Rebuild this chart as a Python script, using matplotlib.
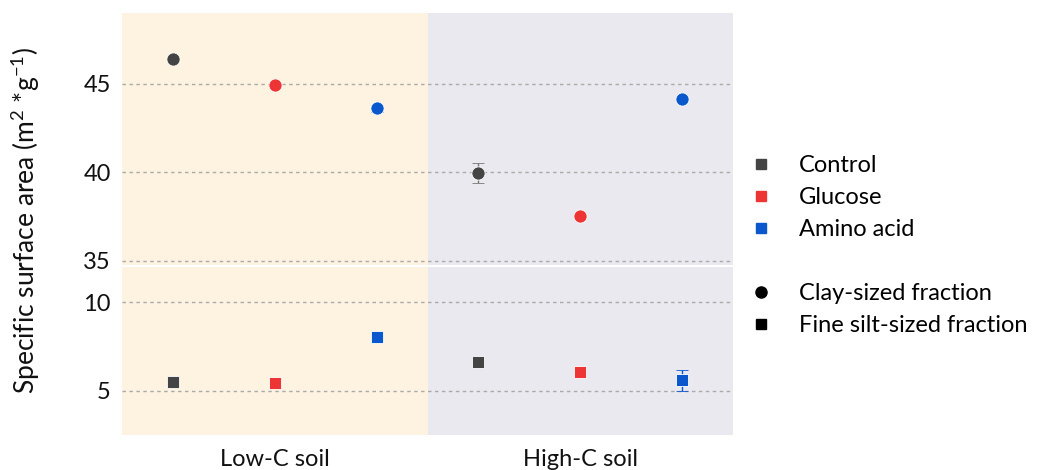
import matplotlib
matplotlib.use("Agg")
import matplotlib.pyplot as plt
from matplotlib.lines import Line2D

plt.rcParams['font.family'] = ['Lato', 'DejaVu Sans']

groups = ["Low-C soil", "High-C soil"]
treatments = ["Control", "Glucose", "Amino acid"]
colors = ["#444444", "#EE3535", "#0A58CC"]

# clay-sized fraction (top panel), order: Low-C (Ctrl, Glu, AA), High-C (Ctrl, Glu, AA)
clay_vals = [46.4, 44.95, 43.6, 39.95, 37.5, 44.15]
clay_err = [0.1, 0.1, 0.2, 0.55, 0.1, 0.1]
# fine silt-sized fraction (bottom panel)
silt_vals = [5.5, 5.45, 8.05, 6.6, 6.05, 5.6]
silt_err = [0.1, 0.2, 0.15, 0.1, 0.1, 0.6]

fig = plt.figure(figsize=(10.37, 4.70), dpi=100)
left, right = 122 / 1037, 733 / 1037
ax_top = fig.add_axes([left, 1 - 265 / 470, right - left, (265 - 13) / 470])
ax_bot = fig.add_axes([left, 1 - 435 / 470, right - left, (435 - 267) / 470])

xs = list(range(6))
for ax in (ax_top, ax_bot):
    ax.axvspan(-0.5, 2.5, color="#FEF3E1", zorder=0, lw=0)
    ax.axvspan(2.5, 5.5, color="#EAE9EF", zorder=0, lw=0)
    ax.set_xlim(-0.5, 5.5)
    for s in ax.spines.values():
        s.set_visible(False)
    ax.tick_params(axis="both", length=0, labelsize=17, colors="#111111")
    ax.tick_params(axis="y", pad=8)

ax_top.set_ylim(34.75, 49)
ax_top.set_yticks([35, 40, 45])
ax_bot.set_ylim(2.5, 12)
ax_bot.set_yticks([5, 10])
for ax in (ax_top, ax_bot):
    for yv in ax.get_yticks():
        ax.axhline(yv, color="#AAAAAA", lw=1.0, ls=(0, (2.5, 2.5)), zorder=1)

ax_top.set_xticks([])
ax_bot.set_xticks([1, 4])
ax_bot.set_xticklabels(groups, fontsize=17)
ax_bot.tick_params(axis="x", pad=10)

for i in xs:
    c = colors[i % 3]
    ax_top.errorbar(i, clay_vals[i], yerr=clay_err[i], fmt="o", color=c, ms=9.5,
                    mec="white", mew=0.6, ecolor="#777777" if i % 3 == 0 else c,
                    elinewidth=1, capsize=4, zorder=3)
    ax_bot.errorbar(i, silt_vals[i], yerr=silt_err[i], fmt="s", color=c, ms=8.5,
                    mec="white", mew=0.6, ecolor="#777777" if i % 3 == 0 else c,
                    elinewidth=1, capsize=4, zorder=3)

fig.text(25 / 1037, 1 - 220 / 470, "Specific surface area (m$^{\\mathregular{2}}$ *g$^{\\mathregular{-1}}$)",
         rotation=90, ha="center", va="center", fontsize=19, color="#111111")

handles = [Line2D([], [], ls="none", marker="s", color=c, ms=7) for c in colors]
handles.append(Line2D([], [], ls="none"))
handles.append(Line2D([], [], ls="none", marker="o", color="black", ms=8))
handles.append(Line2D([], [], ls="none", marker="s", color="black", ms=7))
labels = treatments + [" ", "Clay-sized fraction", "Fine silt-sized fraction"]
fig.legend(handles, labels, loc="upper left", bbox_to_anchor=(749 / 1037, 1 - 155 / 470),
           frameon=False, fontsize=17, handletextpad=1.1, labelspacing=0.47,
           handlelength=1.0, borderaxespad=0, borderpad=0)

fig.savefig("out.png", dpi=100)
